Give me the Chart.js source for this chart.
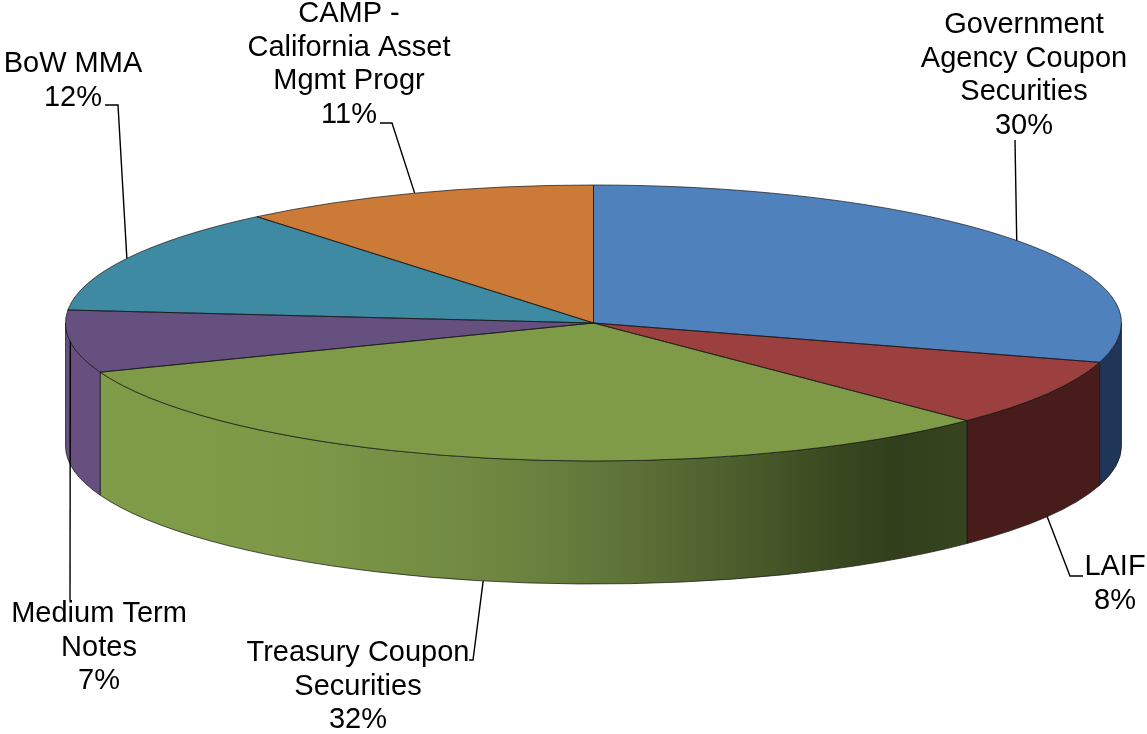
<!DOCTYPE html>
<html>

<head>
  <meta charset="utf-8">
  <script src="https://cdn.jsdelivr.net/npm/chart.js"></script>
  <style>
    html, body { margin: 0; padding: 0; background: #fff; }
    canvas { display: block; }
  </style>
</head>

<body>
  <canvas id="pieChart" width="1147" height="734"></canvas>

  <script>
    const categories = ["Government Agency Coupon Securities", "LAIF", "Treasury Coupon Securities", "Medium Term Notes", "BoW MMA", "CAMP - California Asset Mgmt Progr"];
    const sliceValues = [29.6, 7.9, 31.7, 7.3, 12.5, 11.0];
    const percentLabels = ["30%", "8%", "32%", "7%", "12%", "11%"];
    const labelLines = [
      ["Government", "Agency Coupon", "Securities"],
      ["LAIF"],
      ["Treasury Coupon", "Securities"],
      ["Medium Term", "Notes"],
      ["BoW MMA"],
      ["CAMP -", "California Asset", "Mgmt Progr"]
    ];
    const topColors = ["#4F81BD", "#9B403E", "#7F9B48", "#66507F", "#3F8AA3", "#CB7A38"];
    const wallColors = ["#1F3659", "#481C1A", null, "#674F80", null, null];

    // layout of the tilted disc
    const disc = { x: 593.5, y: 323, rx: 528, ry: 138, depth: 123 };
    const textFont = "29px 'Liberation Sans', Arial, sans-serif";
    const lineHeight = 33.5;
    // where each label block sits (centre x, centre y of first line) and the bends of its leader
    const labelBoxes = [
      { x: 1024, y: 25, bends: [[1015, 140]], onWall: false },
      { x: 1115, y: 567, bends: [[1070, 576], [1083, 576]], onWall: true },
      { x: 358, y: 653, bends: [[473, 660], [469, 660]], onWall: true },
      { x: 99, y: 614, bends: [[70, 600]], onWall: false },
      { x: 73, y: 64, bends: [[118, 105], [105, 105]], onWall: false },
      { x: 349, y: 14, bends: [[392, 123], [380, 123]], onWall: false }
    ];

    function wallFill(ctx, index) {
      if (wallColors[index]) return wallColors[index];
      const grad = ctx.createLinearGradient(101, 0, 966, 0);
      [[0, "#7F9C48"], [0.23, "#7D9947"], [0.46, "#6F8641"], [0.58, "#61763A"], [0.72, "#4E602E"], [0.84, "#3B4A20"], [0.92, "#323F1C"], [1, "#37451E"]]
        .forEach(s => grad.addColorStop(s[0], s[1]));
      return grad;
    }

    const tiltedPie = {
      id: "tiltedPie",
      beforeDatasetsDraw(chart) {
        const ctx = chart.ctx;
        const arcs = chart.getDatasetMeta(0).data;

        // side walls, only the front half of the disc shows
        arcs.forEach((arc, i) => {
          const a0 = Math.max(arc.startAngle, 0);
          const a1 = Math.min(arc.endAngle, Math.PI);
          if (a0 >= a1) return;
          ctx.beginPath();
          ctx.ellipse(disc.x, disc.y, disc.rx, disc.ry, 0, a0, a1);
          ctx.ellipse(disc.x, disc.y + disc.depth, disc.rx, disc.ry, 0, a1, a0, true);
          ctx.closePath();
          ctx.fillStyle = wallFill(ctx, i);
          ctx.fill();
          ctx.strokeStyle = "rgba(20,20,20,0.7)";
          ctx.lineWidth = 1;
          ctx.stroke();
        });

        // squash the library's round pie onto the disc
        const r = arcs[0].outerRadius;
        ctx.save();
        ctx.translate(disc.x, disc.y);
        ctx.scale(disc.rx / r, disc.ry / r);
        ctx.translate(-arcs[0].x, -arcs[0].y);
      },
      afterDatasetsDraw(chart) {
        const ctx = chart.ctx;
        ctx.restore();
        const arcs = chart.getDatasetMeta(0).data;

        // slice outlines at even width
        arcs.forEach(arc => {
          ctx.beginPath();
          ctx.moveTo(disc.x, disc.y);
          ctx.ellipse(disc.x, disc.y, disc.rx, disc.ry, 0, arc.startAngle, arc.endAngle);
          ctx.closePath();
          ctx.strokeStyle = "rgba(20,20,20,0.7)";
          ctx.lineWidth = 1;
          ctx.stroke();
        });

        // leaders start at the slice's mid angle
        arcs.forEach((arc, i) => {
          const box = labelBoxes[i];
          const mid = (arc.startAngle + arc.endAngle) / 2;
          ctx.beginPath();
          ctx.moveTo(disc.x + disc.rx * Math.cos(mid), disc.y + disc.ry * Math.sin(mid) + (box.onWall ? disc.depth : 0));
          box.bends.forEach(p => ctx.lineTo(p[0], p[1]));
          ctx.strokeStyle = "#000";
          ctx.lineWidth = 1.4;
          ctx.stroke();
        });

        // labels
        ctx.font = textFont;
        ctx.fillStyle = "#000";
        ctx.textAlign = "center";
        ctx.textBaseline = "middle";
        labelLines.forEach((lines, i) => {
          const box = labelBoxes[i];
          lines.concat(percentLabels[i]).forEach((text, n) => {
            ctx.fillText(text, box.x, box.y + n * lineHeight);
          });
        });
      }
    };

    new Chart(document.getElementById("pieChart"), {
      type: "pie",
      data: {
        labels: categories,
        datasets: [{
          data: sliceValues,
          backgroundColor: topColors,
          borderWidth: 0,
          clip: false
        }]
      },
      options: {
        responsive: false,
        animation: false,
        events: [],
        plugins: {
          legend: { display: false },
          tooltip: { enabled: false }
        }
      },
      plugins: [tiltedPie]
    });
  </script>
</body>

</html>
